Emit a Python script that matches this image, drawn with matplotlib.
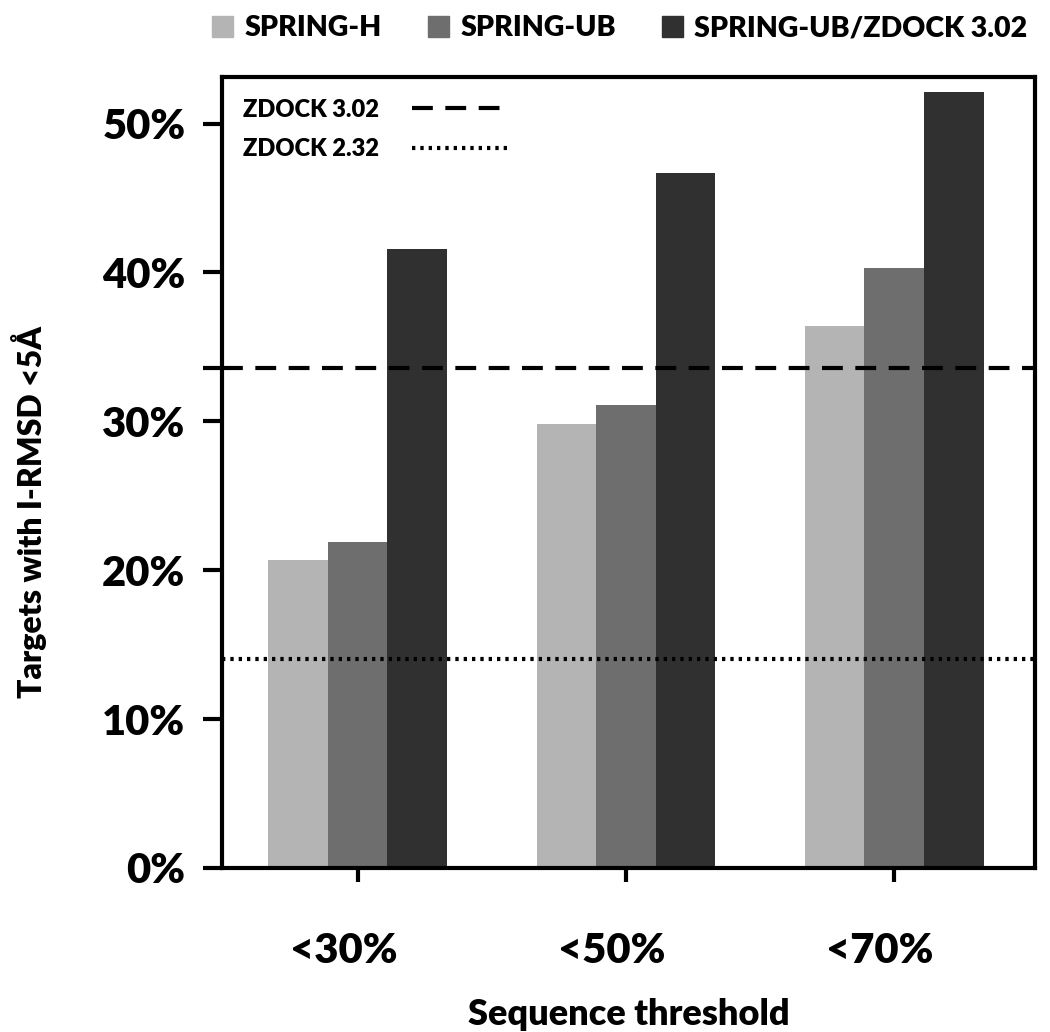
import numpy as np
import matplotlib
matplotlib.use('Agg')
import matplotlib.pyplot as plt
import matplotlib.transforms as mtransforms
from matplotlib.patches import Patch
from matplotlib.lines import Line2D

plt.rcParams['font.family'] = ['Lato', 'DejaVu Sans']
plt.rcParams['font.weight'] = 'bold'

# data (fractions, in %)
categories = ['<30%', '<50%', '<70%']
series_names = ['SPRING-H', 'SPRING-UB', 'SPRING-UB/ZDOCK 3.02']
spring_h = [20.7, 29.8, 36.4]
spring_ub = [21.9, 31.1, 40.3]
spring_ub_zdock = [41.6, 46.7, 52.1]
zdock_302 = 33.6
zdock_232 = 14.0
yticks = [0, 10, 20, 30, 40, 50]

colors = ['#b4b4b4', '#6e6e6e', '#303030']

fig = plt.figure(figsize=(10.5, 10.32), dpi=100)
ax = fig.add_axes([0.211, 0.159, 0.775, 0.766])

x = np.arange(len(categories))
w = 0.222
for i, (vals, c) in enumerate(zip([spring_h, spring_ub, spring_ub_zdock], colors)):
    ax.bar(x + (i - 1) * w, vals, width=w, color=c, zorder=2)

ax.axhline(zdock_302, color='black', lw=3, ls=(0, (5, 3)), zorder=3)
ax.axhline(zdock_232, color='black', lw=3, ls=(0, (0.8, 1.2)), zorder=3)

ax.set_xlim(-0.507, 2.526)
ax.set_ylim(0, 53.1)
ax.set_xticks(x)
ax.set_xticklabels(categories, fontsize=30, fontweight='heavy')
ax.set_yticks(yticks)
ax.set_yticklabels(['%d%%' % v for v in yticks], fontsize=30, fontweight='heavy')
ax.set_yticks([zdock_302], minor=True)
ax.tick_params(axis='y', which='both', direction='out', length=14, width=3, pad=12)
ax.tick_params(axis='x', direction='out', length=10, width=3, pad=36)
# category labels sit a little left of their ticks in the original
shift = mtransforms.ScaledTranslation(-0.14, 0, fig.dpi_scale_trans)
for lbl in ax.get_xticklabels():
    lbl.set_transform(lbl.get_transform() + shift)
for s in ax.spines.values():
    s.set_linewidth(3)

ax.set_ylabel('Targets with I-RMSD <5Å', fontsize=23, fontweight='heavy')
ax.yaxis.set_label_coords(-0.214, 0.45)
ax.set_xlabel('Sequence threshold', fontsize=26, fontweight='heavy', labelpad=20)

# inner legend for the reference lines
line_handles = [Line2D([0], [0], color='black', lw=3, ls=(0, (5, 3))),
                Line2D([0], [0], color='black', lw=3, ls=(0, (0.8, 1.2)))]
ax.legend(line_handles, ['ZDOCK 3.02', 'ZDOCK 2.32'], loc='upper left',
          frameon=False, handlelength=4.2, markerfirst=False,
          handletextpad=1.4, labelspacing=0.75, bbox_to_anchor=(0.0, 1.0),
          prop={'weight': 'heavy', 'size': 17})

# top legend for the bars
bar_handles = [Patch(color=c) for c in colors]
fig.legend(bar_handles, series_names, loc='upper right', ncol=3, frameon=False,
           bbox_to_anchor=(1.003, 1.01), prop={'weight': 'heavy', 'size': 20.5},
           handlelength=0.75, handleheight=0.75, handletextpad=0.4, columnspacing=1.6)

fig.savefig('out.png', dpi=100)
